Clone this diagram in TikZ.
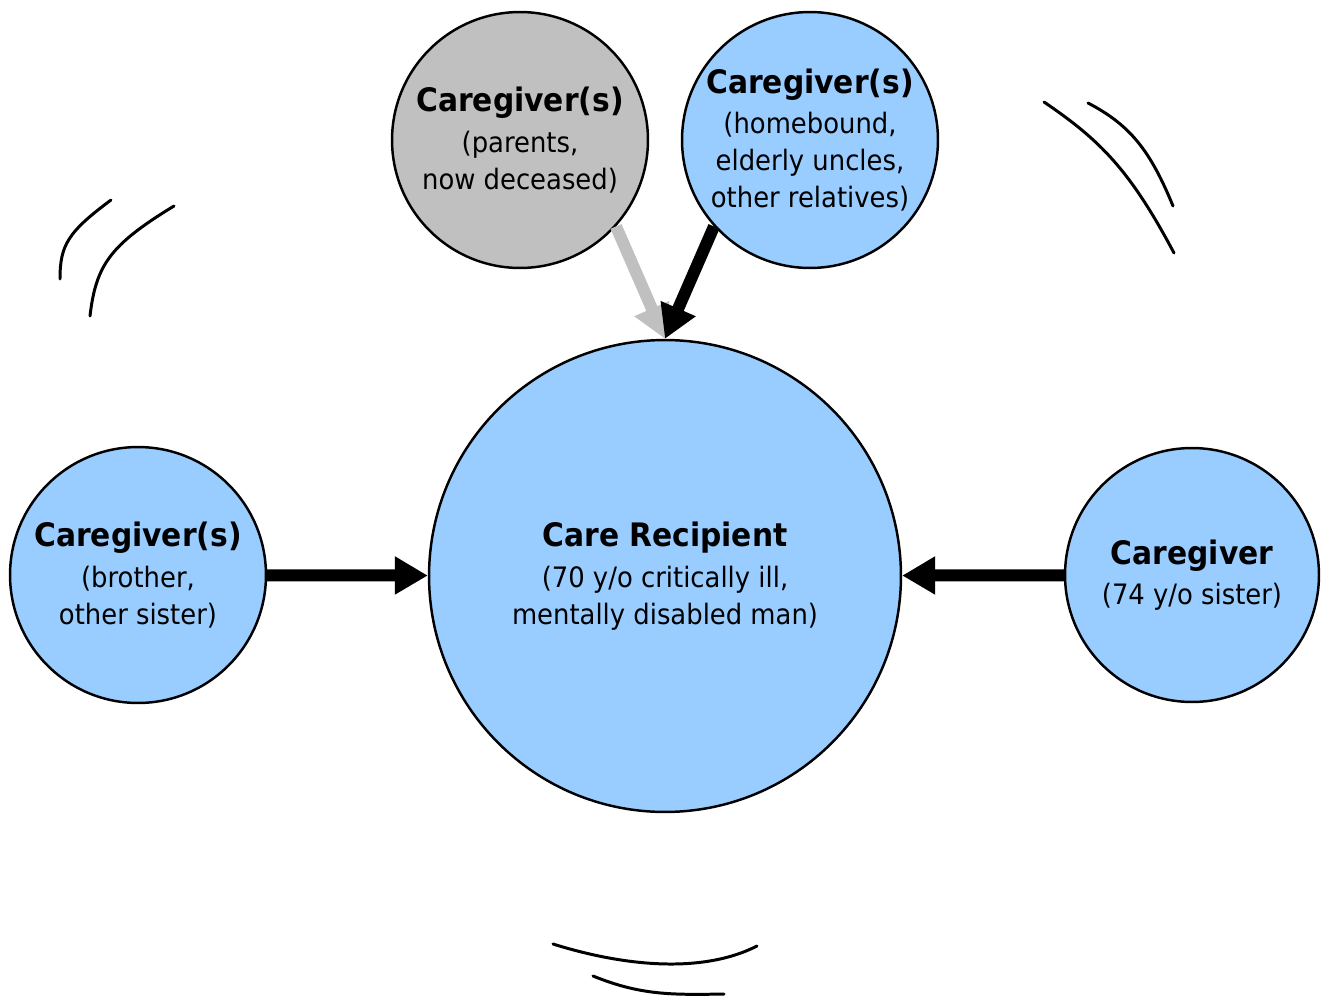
\documentclass[tikz,border=0pt]{standalone}
\usepackage{fontspec}
\setmainfont{DejaVu Sans}[FakeStretch=0.92]
\usetikzlibrary{arrows.meta}
\definecolor{cblue}{HTML}{99CCFF}
\definecolor{cgray}{HTML}{C0C0C0}
\newcommand{\ttl}[1]{{\bfseries\fontsize{18.4}{21}\selectfont #1}\\[2pt]}
\begin{document}
\begin{tikzpicture}[x=0.02cm,y=-0.02cm,
 circ/.style={circle,draw=black,line width=1.4pt,inner sep=0pt,align=center,font=\fontsize{16}{21}\selectfont},
 conn/.style={line width=0.24cm,-{Triangle[length=0.66cm,width=0.72cm]}},
 swish/.style={line width=1.7pt,line cap=round}]
\useasboundingbox (0,0) rectangle (1329,1001);
\node[circ,fill=cblue,minimum size=9.44cm] (rec) at (665,576) {\ttl{Care Recipient}(70 y/o critically ill,\\mentally disabled man)};
\node[circ,fill=cblue,minimum size=5.12cm] (left) at (138,575) {\ttl{Caregiver(s)}(brother,\\other sister)};
\node[circ,fill=cblue,minimum size=5.08cm] (right) at (1192,575) {\ttl{Caregiver}(74 y/o sister)};
\node[circ,fill=cgray,minimum size=5.12cm] (par) at (520,140) {\ttl{Caregiver(s)}(parents,\\now deceased)};
\node[circ,fill=cblue,minimum size=5.12cm] (rel) at (810,140) {\ttl{Caregiver(s)}(homebound,\\elderly uncles,\\other relatives)};
\draw[conn] (left) -- (rec);
\draw[conn] (right) -- (rec);
\draw[conn,cgray] (par.-42) -- (rec.north);
\draw[conn,black] (rel.-138) -- (rec.north);
\draw[swish] (60,279) .. controls (60,245) and (68,232) .. (111,200);
\draw[swish] (90,316) .. controls (96,265) and (110,245) .. (174,206);
\draw[swish] (1044,102) .. controls (1100,140) and (1130,170) .. (1174,253);
\draw[swish] (1088,103) .. controls (1130,125) and (1150,150) .. (1173,206);
\draw[swish] (553,944) .. controls (620,965) and (700,975) .. (757,946);
\draw[swish] (593,976) .. controls (640,995) and (670,995) .. (724,994);
\end{tikzpicture}
\end{document}
